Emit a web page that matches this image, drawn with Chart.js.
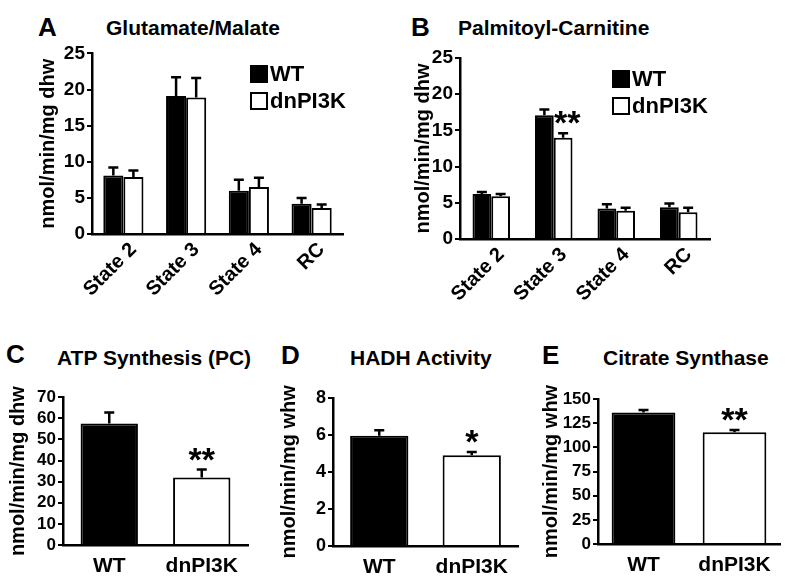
<!DOCTYPE html>
<html>
<head>
<meta charset="utf-8">
<script src="https://cdn.jsdelivr.net/npm/chart.js"></script>
<style>
body{margin:0;background:#fff;}
#page{position:relative;width:800px;height:582px;overflow:hidden;background:#fff;font-family:"Liberation Sans",Arial,sans-serif;font-weight:bold;color:#000;}
#page canvas{position:absolute;}
.lettre{position:absolute;font-size:26px;line-height:1;}
.titre{position:absolute;font-size:21px;line-height:1;white-space:nowrap;}
</style>
</head>
<body>
<div id="page">
  <div class="lettre" style="left:38px;top:14px">A</div>
  <div class="titre" style="left:106px;top:17px">Glutamate/Malate</div>
  <div class="lettre" style="left:411px;top:14px">B</div>
  <div class="titre" style="left:458px;top:17px">Palmitoyl-Carnitine</div>
  <div class="lettre" style="left:6px;top:341px">C</div>
  <div class="titre" style="left:57px;top:347px">ATP Synthesis (PC)</div>
  <div class="lettre" style="left:281px;top:342px">D</div>
  <div class="titre" style="left:350px;top:347px">HADH Activity</div>
  <div class="lettre" style="left:542px;top:342px">E</div>
  <div class="titre" style="left:603px;top:347px">Citrate Synthase</div>

  <canvas id="chartA" width="350" height="262" style="left:0px;top:40px"></canvas>
  <canvas id="chartB" width="330" height="262" style="left:400px;top:40px"></canvas>
  <canvas id="chartC" width="265" height="197" style="left:0px;top:385px"></canvas>
  <canvas id="chartD" width="270" height="197" style="left:265px;top:385px"></canvas>
  <canvas id="chartE" width="265" height="197" style="left:535px;top:385px"></canvas>
</div>
<script>
//les donnees
const etats = ['State 2', 'State 3', 'State 4', 'RC'];
const groupes = ['WT', 'dnPI3K'];

//A glutamate/malate
const glutWT = [8.1, 19.1, 6.0, 4.2];
const glutWTerr = [1.1, 2.6, 1.5, 0.8];
const glutDn = [7.9, 18.9, 6.5, 3.6];
const glutDnErr = [0.9, 2.7, 1.3, 0.5];
const glutTicks = [0, 5, 10, 15, 20, 25];

//B palmitoyl-carnitine
const palmWT = [6.2, 17.1, 4.2, 4.4];
const palmWTerr = [0.3, 0.8, 0.6, 0.5];
const palmDn = [5.9, 14.0, 3.9, 3.7];
const palmDnErr = [0.3, 0.6, 0.4, 0.6];
const palmDnStars = ['', '**', '', ''];
const palmTicks = [0, 5, 10, 15, 20, 25];

//C ATP synthesis
const atpVals = [57.5, 32.0];
const atpErr = [5.3, 3.7];
const atpStars = ['', '**'];
const atpTicks = [0, 10, 20, 30, 40, 50, 60, 70];

//D HADH
const hadhVals = [5.95, 4.9];
const hadhErr = [0.3, 0.18];
const hadhStars = ['', '*'];
const hadhTicks = [0, 2, 4, 6, 8];

//E citrate synthase
const csVals = [136, 115.5];
const csErr = [2.6, 2.5];
const csStars = ['', '**'];
const csTicks = [0, 25, 50, 75, 100, 125, 150];

Chart.defaults.font.family = '"Liberation Sans", Arial, sans-serif';
Chart.defaults.font.weight = 'bold';
Chart.defaults.color = '#000';

//barres d'erreur + etoiles
const barresErreur = {
  id: 'barresErreur',
  afterDatasetsDraw(chart) {
    const ctx = chart.ctx;
    const y = chart.scales.y;
    chart.data.datasets.forEach((ds, i) => {
      const meta = chart.getDatasetMeta(i);
      meta.data.forEach((bar, j) => {
        const err = ds.erreurs ? ds.erreurs[j] : 0;
        const yHaut = y.getPixelForValue(ds.data[j] + err);
        ctx.save();
        ctx.strokeStyle = '#000';
        ctx.lineWidth = 2.5;
        ctx.beginPath();
        ctx.moveTo(bar.x, bar.y);
        ctx.lineTo(bar.x, yHaut);
        ctx.moveTo(bar.x - 5, yHaut);
        ctx.lineTo(bar.x + 5, yHaut);
        ctx.stroke();
        if (ds.etoiles && ds.etoiles[j]) {
          ctx.fillStyle = '#000';
          ctx.font = 'bold 34px "Liberation Sans", Arial';
          ctx.textAlign = 'center';
          ctx.textBaseline = 'alphabetic';
          ctx.fillText(ds.etoiles[j], bar.x + (ds.decalEtoile || 0), yHaut + 1);
        }
        ctx.restore();
      });
    });
  }
};

//legende avec carres
const legendeCarres = {
  id: 'legendeCarres',
  afterDraw(chart, args, opts) {
    if (opts.x === undefined) return;
    const ctx = chart.ctx;
    chart.data.datasets.forEach((ds, i) => {
      const y0 = opts.y + i * 27;
      ctx.save();
      ctx.fillStyle = ds.backgroundColor;
      ctx.fillRect(opts.x, y0, 18, 18);
      ctx.strokeStyle = '#000';
      ctx.lineWidth = 2;
      ctx.strokeRect(opts.x + 1, y0 + 1, 16, 16);
      ctx.fillStyle = '#000';
      ctx.font = 'bold 22px "Liberation Sans", Arial';
      ctx.textAlign = 'left';
      ctx.textBaseline = 'middle';
      ctx.fillText(ds.label, opts.x + 20, y0 + 10);
      ctx.restore();
    });
  }
};

function graphe(id, labels, datasets, ticks, titreY, m) {
  const config = {
    type: 'bar',
    data: { labels: labels, datasets: datasets },
    options: {
      responsive: false,
      animation: false,
      devicePixelRatio: 1,
      layout: { padding: { left: m.pl, top: m.pt, right: m.pr, bottom: 0 } },
      plugins: {
        legend: { display: false },
        tooltip: { enabled: false },
        legendeCarres: m.legende || {}
      },
      scales: {
        x: {
          grid: { display: false, drawTicks: false },
          border: { display: true, color: '#000', width: 2.5 },
          ticks: {
            font: { size: m.fx, weight: 'bold' },
            color: '#000',
            autoSkip: false,
            minRotation: m.rot,
            maxRotation: m.rot,
            labelOffset: m.lo,
            padding: m.px
          },
          afterFit: s => { s.height = m.hx; }
        },
        y: {
          min: ticks[0],
          max: ticks[ticks.length - 1],
          afterBuildTicks: s => { s.ticks = ticks.map(v => ({ value: v })); },
          grid: { display: true, drawOnChartArea: false, drawTicks: true, tickLength: 5, lineWidth: 2, color: '#000' },
          border: { display: true, color: '#000', width: 2.5 },
          ticks: { font: { size: m.fy, weight: 'bold' }, color: '#000', padding: 2, autoSkip: false },
          title: { display: true, text: titreY, color: '#000', font: { size: 20, weight: 'bold' }, padding: { top: 4, bottom: 4 } },
          afterFit: s => { s.width = m.wy; }
        }
      }
    },
    plugins: [barresErreur, legendeCarres]
  };
  return new Chart(document.getElementById(id), config);
}

//A
graphe('chartA', etats, [
  { label: 'WT', data: glutWT, erreurs: glutWTerr, backgroundColor: '#000', borderColor: '#000', borderWidth: 2, barPercentage: 1, categoryPercentage: 0.64 },
  { label: 'dnPI3K', data: glutDn, erreurs: glutDnErr, backgroundColor: '#fff', borderColor: '#000', borderWidth: 2, barPercentage: 1, categoryPercentage: 0.64 }
], glutTicks, 'nmol/min/mg dhw',
  { pl: 32, pt: 13, pr: 7, wy: 60, hx: 68, fx: 20, fy: 19, rot: 45, lo: 10, px: 4, legende: { x: 250, y: 25 } });

//B
graphe('chartB', etats, [
  { label: 'WT', data: palmWT, erreurs: palmWTerr, backgroundColor: '#000', borderColor: '#000', borderWidth: 2, barPercentage: 1, categoryPercentage: 0.6 },
  { label: 'dnPI3K', data: palmDn, erreurs: palmDnErr, etoiles: palmDnStars, decalEtoile: 4, backgroundColor: '#fff', borderColor: '#000', borderWidth: 2, barPercentage: 1, categoryPercentage: 0.6 }
], palmTicks, 'nmol/min/mg dhw',
  { pl: 7, pt: 18, pr: 20, wy: 53, hx: 63, fx: 20, fy: 19, rot: 45, lo: 10, px: 4, legende: { x: 212, y: 30 } });

//C
graphe('chartC', groupes, [
  { label: 'ATP', data: atpVals, erreurs: atpErr, etoiles: atpStars, backgroundColor: ['#000', '#fff'], borderColor: '#000', borderWidth: 2, barPercentage: 0.62, categoryPercentage: 1 }
], atpTicks, 'nmol/min/mg dhw',
  { pl: 2, pt: 8, pr: 17, wy: 61, hx: 37, fx: 21, fy: 17, rot: 0, lo: 0, px: 9 });

//D
graphe('chartD', groupes, [
  { label: 'HADH', data: hadhVals, erreurs: hadhErr, etoiles: hadhStars, backgroundColor: ['#000', '#fff'], borderColor: '#000', borderWidth: 2, barPercentage: 0.63, categoryPercentage: 1 }
], hadhTicks, 'nmol/min/mg whw',
  { pl: 8, pt: 10, pr: 17, wy: 60, hx: 36, fx: 21, fy: 18, rot: 0, lo: 0, px: 9 });

//E
graphe('chartE', groupes, [
  { label: 'CS', data: csVals, erreurs: csErr, etoiles: csStars, backgroundColor: ['#000', '#fff'], borderColor: '#000', borderWidth: 2, barPercentage: 0.7, categoryPercentage: 1 }
], csTicks, 'nmol/min/mg whw',
  { pl: 0, pt: 14, pr: 20, wy: 63, hx: 38, fx: 21, fy: 17, rot: 0, lo: 0, px: 9 });
</script>
</body>
</html>
